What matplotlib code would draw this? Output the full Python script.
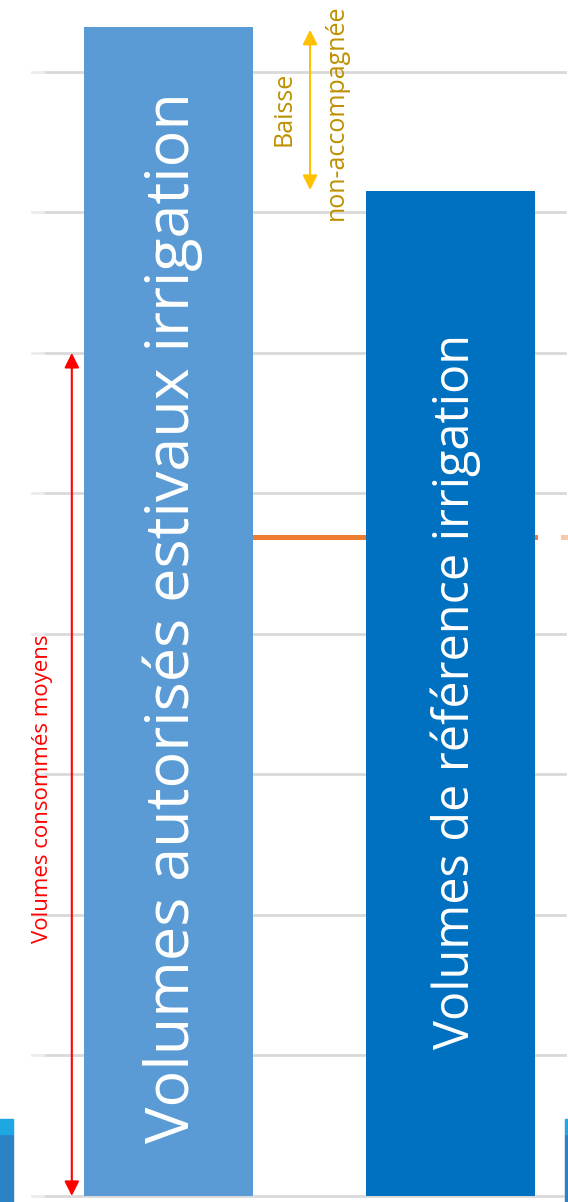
import matplotlib
matplotlib.use("Agg")
import matplotlib.pyplot as plt
from matplotlib.patches import Rectangle

# valeurs (unités de l'axe, une graduation = 1)
categories = ["Volumes autorisés estivaux irrigation", "Volumes de référence irrigation"]
valeurs = [8.32, 7.15]
couleurs = ["#5b9bd5", "#0070c0"]
volume_moyen = 4.69          # ligne orange
consommes = (0.0, 6.0)       # flèche rouge
graduations = list(range(0, 9))

plt.rcParams["font.family"] = ["Open Sans", "DejaVu Sans"]

fig = plt.figure(figsize=(5.68, 12.02), dpi=100)
ax = fig.add_axes([0, 0, 1, 1])
ax.set_xlim(-0.600, 1.417)
ax.set_ylim(-0.043, 8.512)
ax.axis("off")

# quadrillage horizontal
for g in graduations:
    ax.axhline(g, xmin=0.075, xmax=0.995, color="#d9d9d9", lw=2, zorder=0)
    ax.axhline(g, xmin=0.056, xmax=0.075, color="#ececec", lw=2, zorder=0)

# ligne des volumes moyens
ax.plot([0.3, 1.3], [volume_moyen, volume_moyen], color="#ed7d31", lw=3.6, zorder=1)
ax.plot([1.40, 1.417], [volume_moyen, volume_moyen], color="#f6c9a8", lw=3.6, zorder=1)

x = [0, 1]
ax.bar(x, valeurs, width=0.6, color=couleurs, zorder=2)

# textes dans les barres
ax.text(0.012, 4.12, categories[0], rotation=90, ha="center", va="center",
        color="white", fontsize=44, zorder=3)
ax.text(1.02, 3.59, categories[1], rotation=90, ha="center", va="center",
        color="white", fontsize=35, zorder=3)

# flèche rouge : volumes consommés moyens
ax.annotate("", xy=(-0.345, consommes[0]), xytext=(-0.345, consommes[1]),
            arrowprops=dict(arrowstyle="<|-|>", color="red", lw=1.5,
                            mutation_scale=22, shrinkA=0, shrinkB=0), zorder=3)
ax.text(-0.448, 2.90, "Volumes consommés moyens", rotation=90, ha="center",
        va="center", color="red", fontsize=16)

# flèche jaune : baisse non-accompagnée
ax.annotate("", xy=(0.501, valeurs[0] - 0.02), xytext=(0.501, valeurs[1] + 0.01),
            arrowprops=dict(arrowstyle="<|-|>", color="#ffc000", lw=1.5,
                            mutation_scale=22, shrinkA=0, shrinkB=0), zorder=3)
ax.text(0.41, 7.74, "Baisse", rotation=90, ha="center", va="center",
        color="#bf9000", fontsize=18)
ax.text(0.593, 7.71, "non-accompagnée", rotation=90, ha="center", va="center",
        color="#bf9000", fontsize=18)

# bords des graphiques voisins
for x0, w in [(0, 13), (565, 3)]:
    fig.patches.append(Rectangle((x0 / 568, 0), w / 568, 68 / 1202,
                                 transform=fig.transFigure, color="#2b83c6"))
    fig.patches.append(Rectangle((x0 / 568, 68 / 1202), w / 568, 15 / 1202,
                                 transform=fig.transFigure, color="#1ea7e0"))

plt.savefig("out.png", dpi=100)
